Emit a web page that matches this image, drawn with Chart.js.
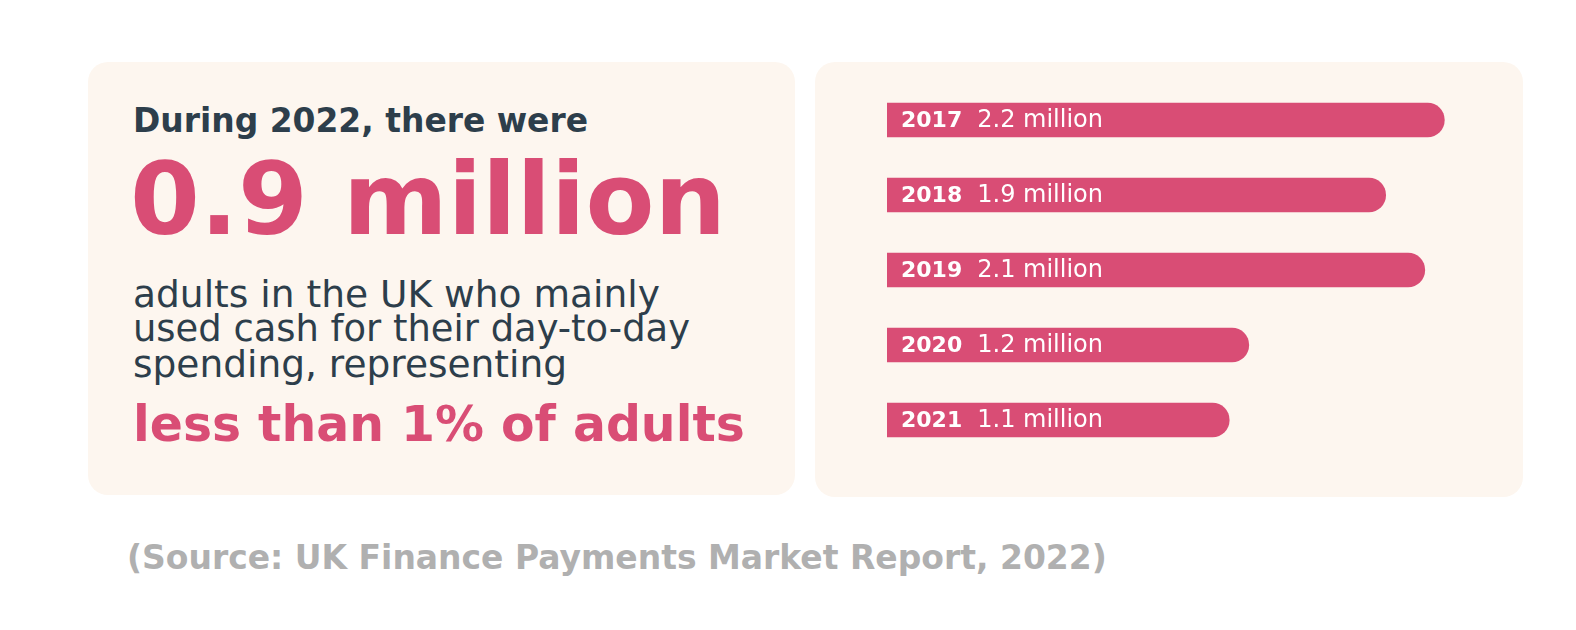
<!DOCTYPE html>
<html>
<head>
<meta charset="utf-8">
<script src="https://cdn.jsdelivr.net/npm/chart.js@4.4.1/dist/chart.umd.min.js"></script>
<style>
  html, body { margin: 0; padding: 0; background: #ffffff; }
  body { width: 1576px; height: 630px; position: relative; overflow: hidden;
         font-family: "DejaVu Sans", "Open Sans", sans-serif; }
  .panel { position: absolute; background: #fdf6ef; border-radius: 20px; }
  .txt { position: absolute; white-space: nowrap; line-height: 1; }
  .dark { color: #2d3e4b; }
  .pink { color: #d94d75; }
  #chartBox { position: absolute; left: 815px; top: 62px; width: 708px; height: 435px; }
</style>
</head>
<body>
<div class="panel" style="left:88px; top:62px; width:707px; height:433px;"></div>
<div class="panel" style="left:815px; top:62px; width:708px; height:435px;"></div>

<div class="txt dark" data-w="455" style="left:133px; top:105px; font-size:32px; font-weight:600;">During 2022, there were</div>
<div class="txt pink" data-w="596" style="left:130px; top:150px; font-size:100px; font-weight:800;">0.9 million</div>
<div class="txt dark" data-w="527" style="left:133px; top:276px; font-size:32px;">adults in the UK who mainly</div>
<div class="txt dark" data-w="557" style="left:133px; top:311px; font-size:32px;">used cash for their day-to-day</div>
<div class="txt dark" data-w="434" style="left:133px; top:346px; font-size:32px;">spending, representing</div>
<div class="txt pink" data-w="612" style="left:133px; top:401px; font-size:48px; font-weight:800;">less than 1% of adults</div>
<div class="txt" data-w="980" style="left:127px; top:541px; font-size:32px; font-weight:600; color:#b0b0b0;">(Source: UK Finance Payments Market Report, 2022)</div>

<div id="chartBox"><canvas id="grafico"></canvas></div>

<script>
const anos = ['2017', '2018', '2019', '2020', '2021'];
const adultosCash = [2.2, 1.9, 2.1, 1.2, 1.1];
const rotulos = ['2.2 million', '1.9 million', '2.1 million', '1.2 million', '1.1 million'];

// ajusta o tamanho das fontes à largura do original
document.querySelectorAll('.txt[data-w]').forEach(el => {
    const alvo = parseFloat(el.dataset.w);
    const fs = parseFloat(el.style.fontSize);
    const w = el.getBoundingClientRect().width;
    el.style.fontSize = (fs * alvo / w).toFixed(2) + 'px';
});

const rosa = '#d94d75';

const rotuloBarras = {
    id: 'rotuloBarras',
    afterDatasetsDraw(chart) {
        const c = chart.ctx;
        const meta = chart.getDatasetMeta(0);
        c.save();
        c.fillStyle = '#ffffff';
        c.textBaseline = 'middle';
        meta.data.forEach((bar, i) => {
            const x = bar.base + 14;
            c.font = 'bold 22px "DejaVu Sans", sans-serif';
            c.fillText(anos[i], x, bar.y + 1);
            const w = c.measureText(anos[i]).width;
            c.font = '24px "DejaVu Sans", sans-serif';
            c.fillText(rotulos[i], x + w + 15, bar.y + 1);
        });
        c.restore();
    }
};

const ctx = document.getElementById('grafico');

new Chart(ctx, {
    type: 'bar',
    data: {
        labels: anos,
        datasets: [{
            label: 'Adults mainly using cash',
            data: adultosCash,
            base: -0.65,
            backgroundColor: rosa,
            borderWidth: 0,
            borderSkipped: 'start',
            borderRadius: 17,
            barThickness: 34
        }]
    },
    options: {
        indexAxis: 'y',
        responsive: true,
        maintainAspectRatio: false,
        animation: false,
        layout: { padding: { left: 72, right: 20, top: 20.5, bottom: 39.5 } },
        plugins: { legend: { display: false }, tooltip: { enabled: false } },
        scales: {
            x: { display: false, min: -0.65, max: 2.5 },
            y: { display: false }
        }
    },
    plugins: [rotuloBarras]
});
</script>
</body>
</html>
